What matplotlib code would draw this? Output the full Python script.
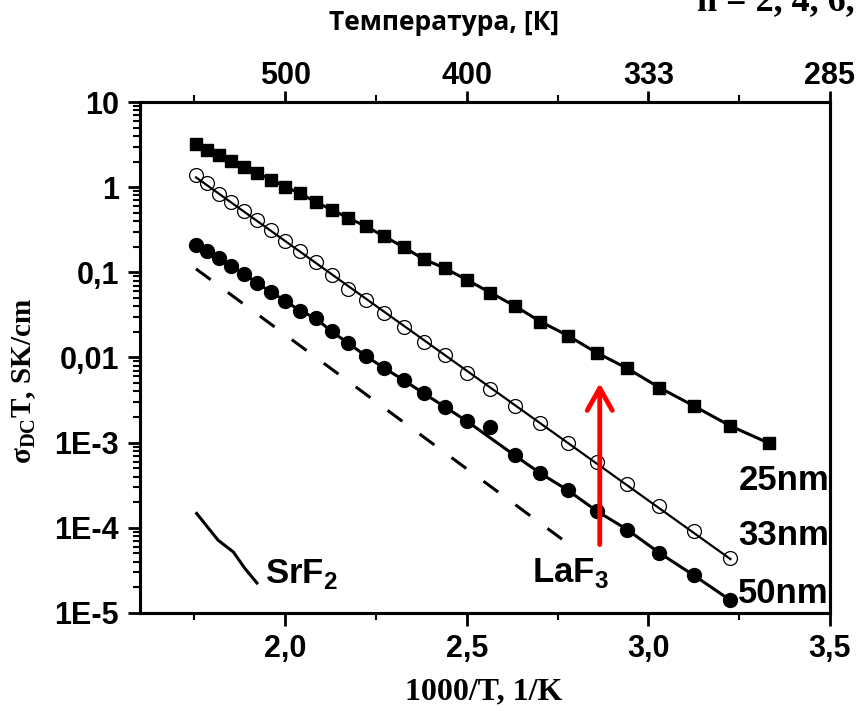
import numpy as np
import matplotlib
matplotlib.use("Agg")
import matplotlib.pyplot as plt
from matplotlib.ticker import FixedLocator, LogLocator, NullFormatter

# temperaturas (K) de cada punto
temp_25 = [570, 560, 550, 540, 530, 520, 510, 500, 490, 480, 470, 460, 450, 440,
           430, 420, 410, 400, 390, 380, 370, 360, 350, 340, 330, 320, 310, 300]
temp_33 = temp_25[:-1]
temp_50 = temp_25[:-1]

# sigma_DC*T, SK/cm
sig_25 = [3.25, 2.76, 2.37, 2.03, 1.73, 1.46, 1.23, 1.01, 0.846, 0.67, 0.544, 0.435,
          0.346, 0.264, 0.198, 0.143, 0.112, 0.0817, 0.0579, 0.0404, 0.0264, 0.0181,
          0.0114, 0.00748, 0.00443, 0.0027, 0.00157, 0.00098]
sig_33 = [1.40, 1.12, 0.839, 0.664, 0.520, 0.407, 0.310, 0.231, 0.176, 0.131, 0.0935,
          0.0640, 0.0475, 0.0332, 0.0227, 0.0154, 0.0107, 0.00664, 0.00424, 0.00269,
          0.00169, 0.00098, 0.000587, 0.000324, 0.000180, 9.14e-5, 4.37e-5]
sig_50 = [0.211, 0.179, 0.147, 0.119, 0.0954, 0.0748, 0.0586, 0.0463, 0.0353, 0.0290,
          0.0202, 0.0147, 0.0104, 0.00748, 0.00545, 0.00380, 0.00264, 0.00179, 0.00151,
          0.000710, 0.000436, 0.000277, 0.000158, 9.55e-5, 5.07e-5, 2.77e-5, 1.41e-5]
outlier_50 = 18  # punto fuera de la linea (390 K)

# LaF3 (linea discontinua) y SrF2
laf3_x = [1.754, 2.762]
laf3_y = [0.110, 7.36e-5]
srf2_x = [1.756, 1.815, 1.857, 1.889, 1.922]
srf2_y = [1.476e-4, 7.16e-5, 5.21e-5, 3.33e-5, 2.25e-5]

xticks = [2.0, 2.5, 3.0, 3.5]
xtick_labels = ["2,0", "2,5", "3,0", "3,5"]
yticks = [1e1, 1e0, 1e-1, 1e-2, 1e-3, 1e-4, 1e-5]
ytick_labels = ["10", "1", "0,1", "0,01", "1E-3", "1E-4", "1E-5"]
top_labels = ["500", "400", "333", "285"]

sans = "Liberation Sans"
serif = "Liberation Serif"

fig = plt.figure(figsize=(8.56, 7.11), dpi=100)
ax = fig.add_axes([140/856, 1 - 613/711, 690/856, 511/711])

x25 = [1000.0 / t for t in temp_25]
x33 = [1000.0 / t for t in temp_33]
x50 = [1000.0 / t for t in temp_50]

# 25 nm
ax.plot(x25, sig_25, color="black", lw=2.2, marker="s", ms=8, mfc="black", mec="black")

# 33 nm: ajuste lineal en escala log
k, b = np.polyfit(x33, np.log10(sig_33), 1)
xx = np.array([x33[0], x33[-1]])
ax.plot(xx, 10 ** (k * xx + b), color="black", lw=1.6)
ax.plot(x33, sig_33, ls="none", marker="o", ms=10, mfc="none", mec="black", mew=0.9)

# 50 nm
x50_line = [v for i, v in enumerate(x50) if i != outlier_50]
s50_line = [v for i, v in enumerate(sig_50) if i != outlier_50]
ax.plot(x50_line, s50_line, color="black", lw=2.2)
ax.plot(x50, sig_50, ls="none", marker="o", ms=10, mfc="black", mec="black")

ax.plot(laf3_x, laf3_y, color="black", lw=2.2, ls=(0, (6, 7)))
ax.plot(srf2_x, srf2_y, color="black", lw=2.2)

ax.annotate("", xy=(2.866, 4.99e-3), xytext=(2.866, 6.37e-5),
            arrowprops=dict(arrowstyle="->,head_length=0.8,head_width=0.45",
                            color="red", lw=3.5, mutation_scale=20,
                            shrinkA=0, shrinkB=0))

ax.set_yscale("log")
ax.set_xlim(1.6, 3.5)
ax.set_ylim(1e-5, 10)

ax.set_xticks(xticks)
ax.set_xticklabels(xtick_labels)
ax.xaxis.set_minor_locator(FixedLocator([1.75, 2.25, 2.75, 3.25]))
ax.set_yticks(yticks)
ax.set_yticklabels(ytick_labels)
ax.yaxis.set_minor_locator(LogLocator(base=10, subs=np.arange(2, 10), numticks=20))
ax.yaxis.set_minor_formatter(NullFormatter())

for lab in ax.get_xticklabels() + ax.get_yticklabels():
    lab.set_fontfamily(sans)
    lab.set_fontweight("bold")
    lab.set_fontsize(22)

ax.tick_params(which="major", direction="out", length=9, width=2, pad=6)
ax.tick_params(which="minor", direction="out", length=5, width=1.5)
ax.tick_params(right=False, top=False)
for sp in ax.spines.values():
    sp.set_linewidth(2.2)

# eje superior: temperatura
ax2 = ax.twiny()
ax2.set_xlim(ax.get_xlim())
ax2.set_xticks(xticks)
ax2.set_xticklabels(top_labels, fontfamily=sans, fontweight="bold", fontsize=22)
ax2.xaxis.set_minor_locator(FixedLocator([1.75, 2.25, 2.75, 3.25]))
ax2.tick_params(which="major", direction="out", length=8, width=2, pad=0)
ax2.tick_params(which="minor", direction="out", length=5, width=1.5)
for sp in ax2.spines.values():
    sp.set_linewidth(2.2)

xl = ax.set_xlabel("1000/T, 1/K", fontfamily=serif, fontweight="bold", fontsize=23)
xl.set_va("center")
ax.xaxis.set_label_coords((484 - 140) / 690, -(692 - 613) / 511)
ax.set_ylabel("σ$_\\mathregular{DC}$T, SK/cm", fontfamily=serif, fontweight="bold", fontsize=21)
ax.yaxis.set_label_coords(-(140 - 38) / 690, (613 - 381) / 511)

fig.text(444/856, 1 - 22/711, "Температура, [К]", family="Open Sans", weight="bold",
         fontsize=19, ha="center", va="center")
fig.text(697/856, 1 - 10/711, "n = 2, 4, 6,", family=serif, weight="bold",
         fontsize=26, ha="left", va="baseline")

for txt, yv in [("25nm", 3.6e-4), ("33nm", 8.2e-5), ("50nm", 1.7e-5)]:
    ax.text(3.248, yv, txt, family=sans, weight="bold", fontsize=25,
            ha="left", va="center", clip_on=True)
ax.text(2.680, 2.93e-5, "LaF$_\\mathregular{3}$", family=sans, weight="bold",
        fontsize=25, ha="left", va="center")
ax.text(1.945, 2.9e-5, "SrF$_\\mathregular{2}$", family=sans, weight="bold",
        fontsize=25, ha="left", va="center")

fig.savefig("out.png", dpi=100)
